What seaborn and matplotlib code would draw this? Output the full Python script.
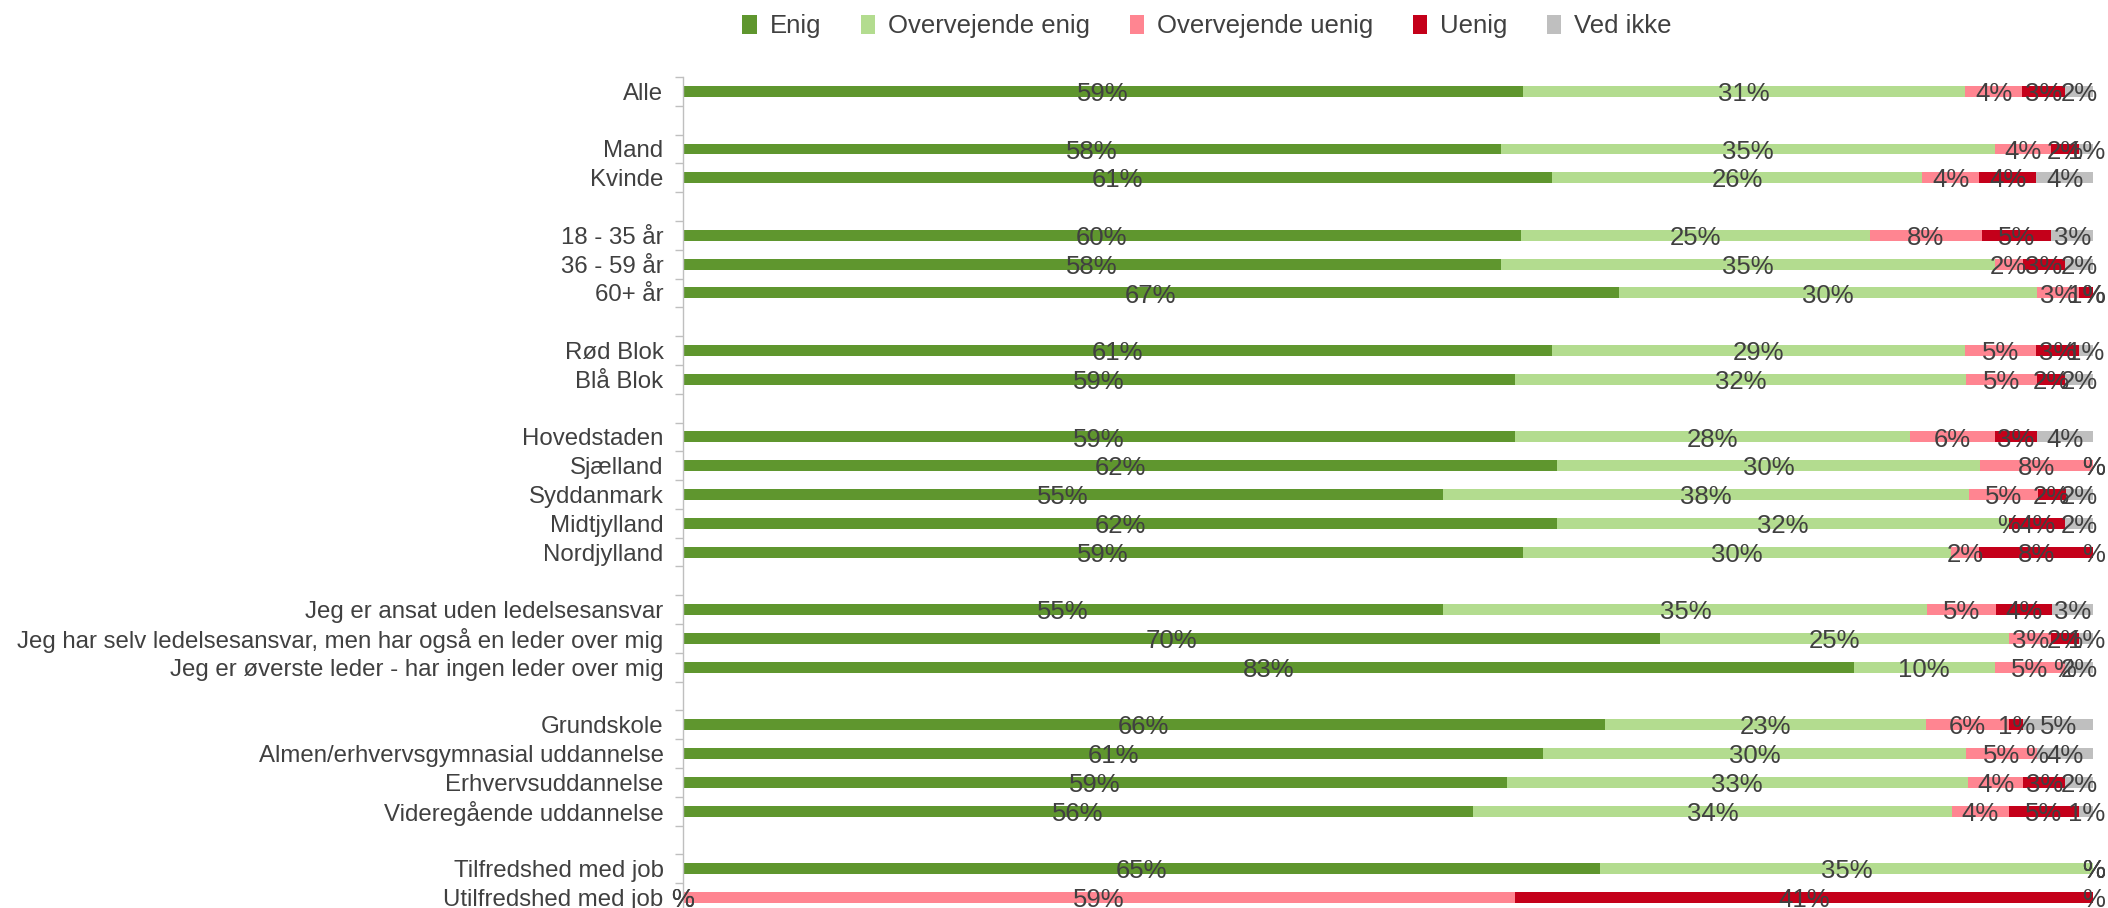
import numpy as np
import pandas as pd
import seaborn as sns
import matplotlib.pyplot as plt
from matplotlib.patches import Patch

# row labels, "" = spacer row between groups
row_labels = ['Alle', '', 'Mand', 'Kvinde', '', '18 - 35 år', '36 - 59 år', '60+ år', '',
              'Rød Blok', 'Blå Blok', '', 'Hovedstaden', 'Sjælland', 'Syddanmark', 'Midtjylland',
              'Nordjylland', '', 'Jeg er ansat uden ledelsesansvar',
              'Jeg har selv ledelsesansvar, men har også en leder over mig',
              'Jeg er øverste leder - har ingen leder over mig', '', 'Grundskole',
              'Almen/erhvervsgymnasial uddannelse', 'Erhvervsuddannelse', 'Videregående uddannelse',
              '', 'Tilfredshed med job', 'Utilfredshed med job']

# percentages per answer (None = spacer row)
enig = [59, None, 58, 61, None, 60, 58, 67, None, 61, 59, None, 59, 62, 55, 62, 59, None,
        55, 70, 83, None, 66, 61, 59, 56, None, 65, 0]
ov_enig = [31, None, 35, 26, None, 25, 35, 30, None, 29, 32, None, 28, 30, 38, 32, 30, None,
           35, 25, 10, None, 23, 30, 33, 34, None, 35, 0]
ov_uenig = [4, None, 4, 4, None, 8, 2, 3, None, 5, 5, None, 6, 8, 5, 0, 2, None,
            5, 3, 5, None, 6, 5, 4, 4, None, 0, 59]
uenig = [3, None, 2, 4, None, 5, 3, 1, None, 3, 2, None, 3, 0, 2, 4, 8, None,
         4, 2, 0, None, 1, 0, 3, 5, None, 0, 41]
ved_ikke = [2, None, 1, 4, None, 3, 2, 0, None, 1, 2, None, 4, 0, 2, 2, 0, None,
            3, 1, 2, None, 5, 4, 2, 1, None, 0, 0]

series = ['Enig', 'Overvejende enig', 'Overvejende uenig', 'Uenig', 'Ved ikke']
colors = ['#5F962E', '#B3DC8F', '#FF8591', '#C4001A', '#BFBFBF']

# unique keys so seaborn keeps spacer rows as separate categories
keys = [lab if lab else ' ' * (i + 1) for i, lab in enumerate(row_labels)]

df = pd.DataFrame({'Enig': enig, 'Overvejende enig': ov_enig, 'Overvejende uenig': ov_uenig,
                   'Uenig': uenig, 'Ved ikke': ved_ikke}, index=keys, dtype=float)

# 100% stacked, like Excel
shares = df.div(df.sum(axis=1), axis=0)
cum = shares.cumsum(axis=1).fillna(0)

sns.set_style('white')
plt.rcParams['font.family'] = ['Liberation Sans', 'DejaVu Sans']
text_col = '#404040'

fig = plt.figure(figsize=(21.08, 9.08), dpi=100)
ax = fig.add_axes([0.324, -0.0044, 0.669, 0.9196])

# draw cumulative layers from widest to narrowest
for name, col in reversed(list(zip(series, colors))):
    plot_df = pd.DataFrame({'row': keys, 'val': cum[name].values})
    sns.barplot(data=plot_df, x='val', y='row', order=keys, color=col, saturation=1,
                width=0.38, linewidth=0, errorbar=None, orient='h', ax=ax)

# data labels at segment centers
for i, k in enumerate(keys):
    if df.loc[k].isna().all():
        continue
    for name in series:
        v = df.loc[k, name]
        x = cum.loc[k, name] - shares.loc[k, name] / 2
        txt = f'{int(v)}%' if v else '%'
        ax.text(x, i + 0.09, txt, ha='center', va='center', fontsize=18.5, color=text_col)

ax.set_xlim(0, 1)
ax.set_ylim(len(keys) - 0.5, -0.5)
ax.set_xticks([])
ax.set_xlabel('')
ax.set_ylabel('')
ax.set_yticks(range(len(keys)))
ax.set_yticklabels(row_labels, fontsize=17.3, color=text_col)
ax.set_yticks(np.arange(-0.5, len(keys), 1), minor=True)
ax.tick_params(axis='y', which='major', length=0, pad=14)
ax.tick_params(axis='y', which='minor', length=6, width=1, color='#BFBFBF', left=True)
for s in ['top', 'right', 'bottom']:
    ax.spines[s].set_visible(False)
ax.spines['left'].set_color('#BFBFBF')
ax.spines['left'].set_linewidth(1)

handles = [Patch(facecolor=c, edgecolor='none', label=s) for s, c in zip(series, colors)]
fig.legend(handles=handles, loc='center', bbox_to_anchor=(0.5725, 0.971), ncol=5,
           frameon=False, fontsize=18.5, handlelength=0.55, handleheight=0.75,
           handletextpad=0.5, columnspacing=1.55, labelcolor=text_col)

fig.savefig('out.png', dpi=100)
